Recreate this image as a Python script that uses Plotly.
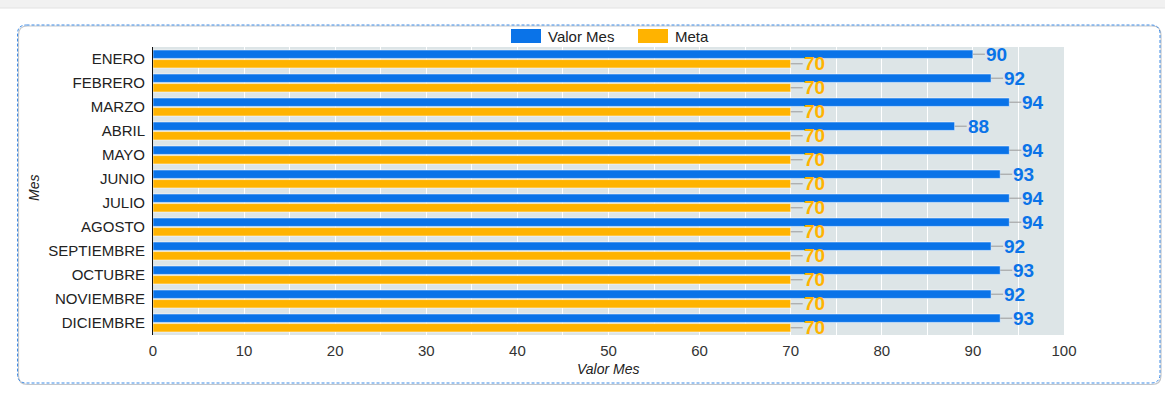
import plotly.graph_objects as go

# Monthly results against the target
meses = ["ENERO", "FEBRERO", "MARZO", "ABRIL", "MAYO", "JUNIO", "JULIO",
         "AGOSTO", "SEPTIEMBRE", "OCTUBRE", "NOVIEMBRE", "DICIEMBRE"]
valor_mes = [90, 92, 94, 88, 94, 93, 94, 94, 92, 93, 92, 93]
meta = [70, 70, 70, 70, 70, 70, 70, 70, 70, 70, 70, 70]

AZUL = "#0a73e8"
NARANJA = "#ffb300"
FONT = "Liberation Sans, Arial, sans-serif"

W, H = 1165, 402
L, R, T, B = 153, 101, 47, 67
PW, PH = W - L - R, H - T - B


def px(x):
    return (x - L) / PW


def py(y):
    return (H - B - y) / PH


BARGAP = 0.2
OFF = (1 - BARGAP) / 4  # centre offset of each bar inside its group

fig = go.Figure()
fig.add_bar(y=meses, x=valor_mes, orientation="h", name="Valor Mes",
            marker=dict(color=AZUL, line=dict(color="rgba(255,255,255,0.55)", width=1)),
            hoverinfo="x+y")
fig.add_bar(y=meses, x=meta, orientation="h", name="Meta",
            marker=dict(color=NARANJA, line=dict(color="rgba(255,255,255,0.55)", width=1)),
            hoverinfo="x+y")

annotations = []
for i, (v, m) in enumerate(zip(valor_mes, meta)):
    for val, dy, col in ((v, -OFF, AZUL), (m, OFF, NARANJA)):
        annotations.append(dict(
            x=val, y=i + dy, xref="x", yref="y", text=str(val),
            showarrow=True, arrowhead=0, arrowwidth=1, arrowcolor="#9a9a9a",
            ax=12, ay=0, standoff=0, xanchor="left", yanchor="middle",
            borderpad=0,
            font=dict(family=FONT, size=19, color=col, weight="bold"),
        ))

# axis titles
annotations.append(dict(text="<i>Valor Mes</i>", x=px(608), y=py(369), xref="paper", yref="paper",
                        showarrow=False, font=dict(family=FONT, size=14, color="#222"),
                        xanchor="center", yanchor="middle"))
annotations.append(dict(text="<i>Mes</i>", x=px(34), y=py(188), xref="paper", yref="paper",
                        showarrow=False, textangle=-90,
                        font=dict(family=FONT, size=14, color="#222"),
                        xanchor="center", yanchor="middle"))

# legend entries
for label, col, x0 in (("Valor Mes", AZUL, 511), ("Meta", NARANJA, 638)):
    annotations.append(dict(text=label, x=px(x0 + 35), y=py(36), xref="paper", yref="paper",
                            showarrow=False, xanchor="left", yanchor="middle",
                            font=dict(family=FONT, size=15, color="#222")))

shapes = []
for col, x0 in ((AZUL, 511), (NARANJA, 638)):
    shapes.append(dict(type="rect", xref="paper", yref="paper",
                       x0=px(x0), x1=px(x0 + 30), y0=py(29), y1=py(43),
                       fillcolor=col, line=dict(width=0)))

# top strip
shapes.append(dict(type="rect", xref="paper", yref="paper", x0=px(0), x1=px(W),
                   y0=py(0), y1=py(8), fillcolor="#f1f1f1", line=dict(width=0), layer="below"))
shapes.append(dict(type="line", xref="paper", yref="paper", x0=px(0), x1=px(W),
                   y0=py(8), y1=py(8), line=dict(color="#e2e2e2", width=1), layer="below"))


def rounded(x0, y0, x1, y1, r):
    return (f"M {px(x0 + r)},{py(y0)} L {px(x1 - r)},{py(y0)} "
            f"Q {px(x1)},{py(y0)} {px(x1)},{py(y0 + r)} "
            f"L {px(x1)},{py(y1 - r)} Q {px(x1)},{py(y1)} {px(x1 - r)},{py(y1)} "
            f"L {px(x0 + r)},{py(y1)} Q {px(x0)},{py(y1)} {px(x0)},{py(y1 - r)} "
            f"L {px(x0)},{py(y0 + r)} Q {px(x0)},{py(y0)} {px(x0 + r)},{py(y0)} Z")


# card frame with soft shadow
shapes.append(dict(type="path", xref="paper", yref="paper",
                   path=rounded(18.5, 26, 1161, 384.5, 9),
                   line=dict(color="#c4c7cb", width=1.2), layer="below"))
shapes.append(dict(type="path", xref="paper", yref="paper",
                   path=rounded(17.5, 25, 1160, 383, 9),
                   line=dict(color="#3d8be6", width=1, dash="3px,2px"), layer="below"))

fig.update_layout(
    width=W, height=H,
    margin=dict(l=L, r=R, t=T, b=B, pad=0),
    barmode="group", bargap=BARGAP, bargroupgap=0.12,
    paper_bgcolor="white", plot_bgcolor="#dde5e7",
    showlegend=False,
    font=dict(family=FONT, size=15, color="#222"),
    xaxis=dict(range=[0, 100], dtick=10, tick0=0, showgrid=True, gridcolor="white",
               gridwidth=1, zeroline=False, showline=False,
               ticks="outside", ticklen=2, tickcolor="rgba(0,0,0,0)",
               tickfont=dict(family=FONT, size=15, color="#333"),
               minor=dict(dtick=5, showgrid=True, gridcolor="white", gridwidth=1),
               fixedrange=True),
    yaxis=dict(range=[len(meses) - 0.5, -0.5], showgrid=False, zeroline=False,
               showline=True, linecolor="#111", linewidth=1,
               ticks="outside", ticklen=4, tickcolor="rgba(0,0,0,0)",
               tickfont=dict(family=FONT, size=15, color="#222"),
               fixedrange=True),
    annotations=annotations,
    shapes=shapes,
)

fig.write_html("out.html")
